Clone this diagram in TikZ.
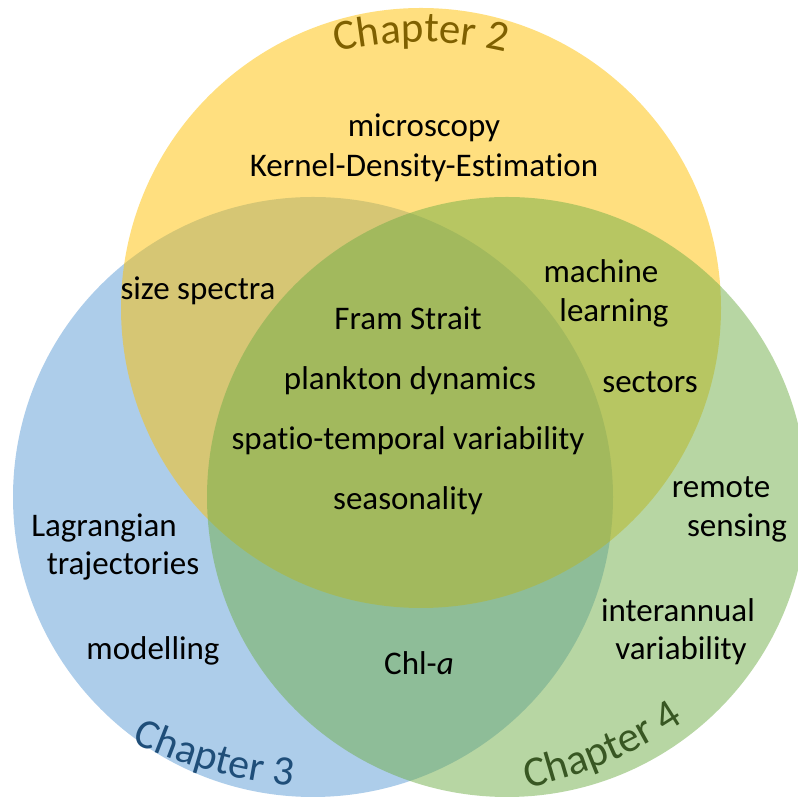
\documentclass[tikz,border=0pt]{standalone}
\usepackage{fontspec}
\setmainfont{Carlito}[Ligatures={NoCommon}]
\usetikzlibrary{decorations.text}
\definecolor{cblue}{HTML}{5B9BD5}
\definecolor{cyellow}{HTML}{FFC000}
\definecolor{cgreen}{HTML}{70AD47}
\definecolor{tblue}{HTML}{1F4E79}
\definecolor{tgold}{HTML}{7F6000}
\definecolor{tgreen}{HTML}{385723}
\begin{document}
\begin{tikzpicture}[x=1pt,y=1pt,
  lbl/.style={anchor=base, font=\fontsize{33}{40}\selectfont, text=black, inner sep=0pt},
  setfill/.style={fill=#1, fill opacity=0.5}]
\useasboundingbox (0,0) rectangle (798,797);
\clip (0,0) rectangle (798,797);
% circles (blue, then yellow, then green)
\fill[setfill=cblue] (313,300) circle[radius=300];
\fill[setfill=cyellow] (421,489) circle[radius=300];
\fill[setfill=cgreen] (507,300) circle[radius=300];
% chapter labels
\path[decorate, decoration={text along path, text align=center, text color=tgold,
  text={|\fontsize{43}{50}\selectfont|Chapter 2}}]
  (333.9,744.3) arc[start angle=104, end angle=76, radius=360];
\path[decorate, decoration={text along path, text color=tblue,
  text={|\fontsize{42}{50}\selectfont|Chapter 3}}]
  (132,55) arc[start angle=245, end angle=268, radius=500];
\path[decorate, decoration={text along path, text color=tgreen,
  text={|\fontsize{43}{50}\selectfont|Chapter 4}}]
  (527,9) arc[start angle=-78, end angle=-52, radius=450];
% texts
\node[lbl] (micro) at (424,660) {microscopy};
\node[lbl] (kde) at (424,620) {Kernel-Density-Estimation};
\node[lbl] (size) at (198,497) {size spectra};
\node[lbl] (fram) at (408,467) {Fram Strait};
\node[lbl] (plank) at (410,407) {plankton dynamics};
\node[lbl] (spatio) at (408,347) {spatio-temporal variability};
\node[lbl] (season) at (408,287) {seasonality};
\node[lbl] (mach) at (601,514) {machine};
\node[lbl] (learn) at (614,475) {learning};
\node[lbl] (sect) at (650,404) {sectors};
\node[lbl] (remote) at (721,299) {remote};
\node[lbl] (sensing) at (737,260) {sensing};
\node[lbl] (lagr) at (104,260) {Lagrangian};
\node[lbl] (traj) at (123,222) {trajectories};
\node[lbl] (model) at (153,137) {modelling};
\node[lbl] (chl) at (419,122) {Chl-\textit{a}};
\node[lbl] (inter) at (678,175) {interannual};
\node[lbl] (vari) at (681,137) {variability};
\end{tikzpicture}
\end{document}
